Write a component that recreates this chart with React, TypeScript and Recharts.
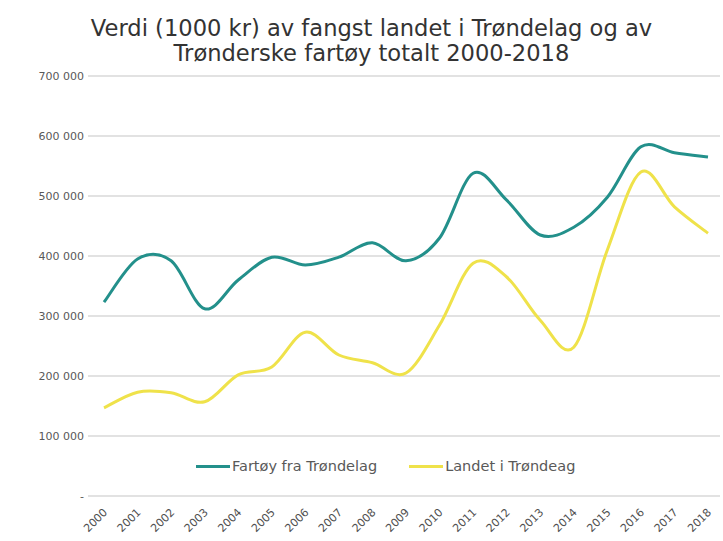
import { LineChart, Line, XAxis, YAxis, CartesianGrid } from "recharts";

const years = ["2000", "2001", "2002", "2003", "2004", "2005", "2006", "2007", "2008", "2009", "2010", "2011", "2012", "2013", "2014", "2015", "2016", "2017", "2018"];
const fartoy = [323000, 395000, 392000, 312000, 360000, 398000, 385000, 398000, 422000, 392000, 430000, 538000, 493000, 435000, 448000, 498000, 582000, 572000, 565000];
const landet = [147000, 173000, 172000, 157000, 202000, 215000, 273000, 235000, 222000, 205000, 285000, 388000, 365000, 293000, 248000, 410000, 540000, 482000, 438000];
const yTicks = [0, 100000, 200000, 300000, 400000, 500000, 600000, 700000];
const seriesNames = ["Fartøy fra Trøndelag", "Landet i Trøndeag"];

const data = years.map((y, i) => ({ year: y, fartoy: fartoy[i], landet: landet[i] }));

const TEAL = "#23908b";
const YELLOW = "#efe24a";
const FONT = "'DejaVu Sans', Verdana, sans-serif";

// Excel-style smoothing (Catmull-Rom through every point)
const smooth = (context: any) => {
  let pts: number[][] = [];
  return {
    areaStart() {},
    areaEnd() {},
    lineStart() {
      pts = [];
    },
    point(x: number, y: number) {
      pts.push([+x, +y]);
    },
    lineEnd() {
      if (!pts.length) return;
      context.moveTo(pts[0][0], pts[0][1]);
      for (let i = 0; i < pts.length - 1; i++) {
        const p0 = pts[i - 1] || pts[i];
        const p1 = pts[i];
        const p2 = pts[i + 1];
        const p3 = pts[i + 2] || p2;
        context.bezierCurveTo(
          p1[0] + (p2[0] - p0[0]) / 6,
          p1[1] + (p2[1] - p0[1]) / 6,
          p2[0] - (p3[0] - p1[0]) / 6,
          p2[1] - (p3[1] - p1[1]) / 6,
          p2[0],
          p2[1]
        );
      }
    },
  };
};

const fmt = (v: number) => (v === 0 ? "-" : v.toLocaleString("en-US").replace(/,/g, " "));

const YearTick = ({ x, y, payload }: any) => (
  <text
    transform={`translate(${x + 4},${y + 9}) rotate(-45)`}
    textAnchor="end"
    fontSize={11}
    fill="#505050"
    fontFamily={FONT}
  >
    {payload.value}
  </text>
);

const legendItems = [
  { name: seriesNames[0], color: TEAL },
  { name: seriesNames[1], color: YELLOW },
];

export default function App() {
  return (
    <div style={{ position: "absolute", left: 0, top: 0, width: 723, height: 541, background: "#fff" }}>
      <div
        style={{
          position: "absolute",
          left: 20,
          top: 16,
          width: 703,
          textAlign: "center",
          fontFamily: FONT,
          fontSize: 22.6,
          lineHeight: "25px",
          color: "#333",
        }}
      >
        Verdi (1000 kr) av fangst landet i Trøndelag og av
        <br />
        Trønderske fartøy totalt 2000-2018
      </div>
      <LineChart width={723} height={541} data={data} margin={{ top: 76, right: 3, bottom: 0, left: 0 }}>
        <CartesianGrid vertical={false} stroke="#d9d9d9" strokeWidth={1.5} />
        <XAxis
          dataKey="year"
          axisLine={false}
          tickLine={false}
          tick={<YearTick />}
          interval={0}
          height={45}
          padding={{ left: 16, right: 12 }}
        />
        <YAxis
          width={88}
          domain={[0, 700000]}
          ticks={yTicks}
          tickFormatter={fmt}
          axisLine={false}
          tickLine={false}
          tickSize={0}
          tickMargin={4}
          tick={{ fontSize: 11, fill: "#595959", fontFamily: FONT }}
        />
        <Line dataKey="fartoy" name={seriesNames[0]} type={smooth as any} stroke={TEAL} strokeWidth={3} dot={false} isAnimationActive={false} />
        <Line dataKey="landet" name={seriesNames[1]} type={smooth as any} stroke={YELLOW} strokeWidth={3} dot={false} isAnimationActive={false} />
      </LineChart>
      <div
        style={{
          position: "absolute",
          left: 196,
          top: 458,
          display: "flex",
          alignItems: "center",
          fontFamily: FONT,
          fontSize: 14.5,
          color: "#595959",
          whiteSpace: "nowrap",
        }}
      >
        {legendItems.map((it, i) => (
          <div key={it.name} style={{ display: "flex", alignItems: "center", marginRight: i === 0 ? 32 : 0 }}>
            <span style={{ display: "inline-block", width: 34, height: 3, background: it.color, marginRight: 2 }} />
            {it.name}
          </div>
        ))}
      </div>
    </div>
  );
}
